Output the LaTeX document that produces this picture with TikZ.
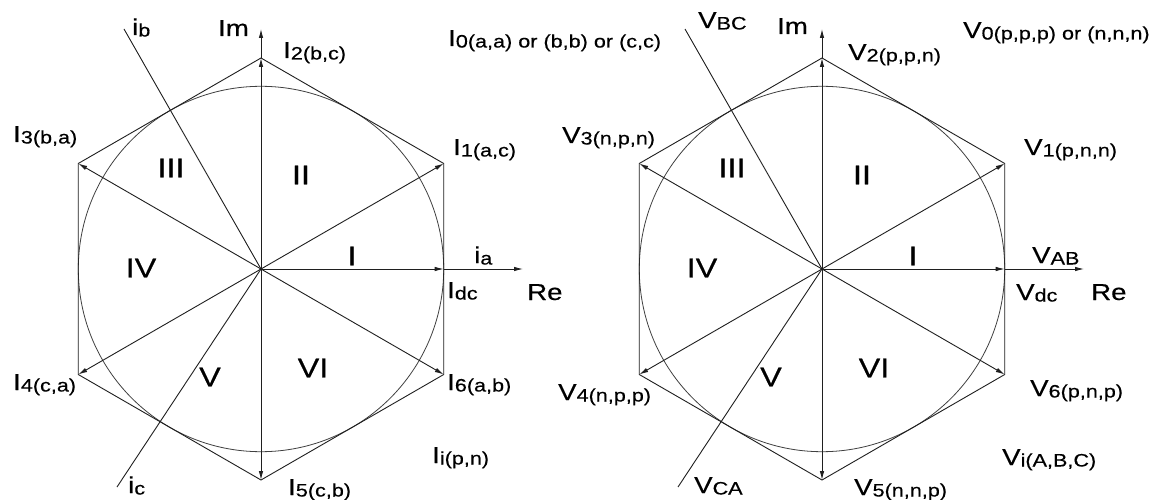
\documentclass[tikz,border=0pt]{standalone}
\usepackage{fontspec}
\setmainfont{Liberation Sans}[FakeStretch=1.2,FakeBold=0.4]
\usetikzlibrary{arrows.meta,calc}
\newcommand{\vl}[2]{{\fontsize{23}{25}\selectfont #1}{\fontsize{18}{20}\selectfont\raisebox{-1.5pt}{#2}}}
\newcommand{\bigt}[1]{{\fontsize{23}{25}\selectfont #1}}
\newcommand{\drawpanel}[3]{%
  \coordinate (#1c) at (#2,#3);
  \foreach \k/\a in {1/-30,2/-90,3/-150,4/150,5/90,6/30}{
    \coordinate (#1v\k) at ($(#1c)+(\a:211)$);
  }
  \coordinate (#1dc) at ($(#1c)+(182.7,0)$);
  \coordinate (#1re) at ($(#1c)+(262,0)$);
  \coordinate (#1im) at ($(#1c)+(0,-240)$);
  \coordinate (#1b) at ($(#1c)+(-137,-240)$);
  \coordinate (#1cc) at ($(#1c)+(-144,218)$);
  \draw[circ] (#1c) circle[radius=182.7];
  \draw[ln] (#1v1) -- (#1v2) -- (#1v3) -- (#1v4) -- (#1v5) -- (#1v6) -- cycle;
  \foreach \k in {1,...,6}{ \draw[vec] (#1c) -- (#1v\k); }
  \draw[vec] (#1c) -- (#1dc);
  \draw[vec] (#1dc) -- (#1re);
  \draw[vec] (#1v2) -- (#1im);
  \draw[ln] (#1c) -- (#1b);
  \draw[ln] (#1c) -- (#1cc);
  \node[sec] (#1s3) at ($(#1c)+(-90,-101)$) {III};
  \node[sec] (#1s2) at ($(#1c)+(40,-94)$) {II};
  \node[sec] (#1s1) at ($(#1c)+(91,-13)$) {I};
  \node[sec] (#1s4) at ($(#1c)+(-120,-1)$) {IV};
  \node[sec] (#1s5) at ($(#1c)+(-51,108)$) {V};
  \node[sec] (#1s6) at ($(#1c)+(52,99)$) {VI};
}
\tikzset{
  ln/.style={line width=0.9pt, draw=black!88},
  vec/.style={ln, -{Latex[length=9pt,width=4.5pt]}},
  circ/.style={line width=0.8pt, draw=black!75},
  lbl/.style={inner sep=0pt, anchor=base west},
  sec/.style={inner sep=0pt, anchor=center, font=\fontsize{27}{30}\selectfont},
}
\begin{document}
\begin{tikzpicture}[x=1pt,y=-1pt]
\useasboundingbox[fill=white] (0,0) rectangle (1165,500);
\drawpanel{L}{261}{269}
\drawpanel{R}{822}{269}
% left labels
\node[lbl] (lib) at (132,35) {\vl{i}{b}};
\node[lbl] (lim) at (218,36) {\bigt{Im}};
\node[lbl] (li2) at (283,58) {\vl{I}{2(b,c)}};
\node[lbl] (li0) at (448,46) {\vl{I}{0(a,a) or (b,b) or (c,c)}};
\node[lbl] (li3) at (13,142) {\vl{I}{3(b,a)}};
\node[lbl] (li1) at (453,155) {\vl{I}{1(a,c)}};
\node[lbl] (lia) at (474,263) {\vl{i}{a}};
\node[lbl] (lidc) at (447,298) {\vl{I}{dc}};
\node[lbl] (lre) at (527,300) {\bigt{Re}};
\node[lbl] (li4) at (13,390) {\vl{I}{4(c,a)}};
\node[lbl] (li6) at (447,390) {\vl{I}{6(a,b)}};
\node[lbl] (lii) at (432,463) {\vl{I}{i(p,n)}};
\node[lbl] (lic) at (128,493) {\vl{i}{c}};
\node[lbl] (li5) at (288,495) {\vl{I}{5(c,b)}};
% right labels
\node[lbl] (rvbc) at (698,28) {\vl{V}{BC}};
\node[lbl] (rim) at (777,34) {\bigt{Im}};
\node[lbl] (rv2) at (848,60) {\vl{V}{2(p,p,n)}};
\node[lbl] (rv0) at (963,38) {\vl{V}{0(p,p,p) or (n,n,n)}};
\node[lbl] (rv3) at (562,143) {\vl{V}{3(n,p,n)}};
\node[lbl] (rv1) at (1024,155) {\vl{V}{1(p,n,n)}};
\node[lbl] (rvab) at (1032,263) {\vl{V}{AB}};
\node[lbl] (rvdc) at (1016,300) {\vl{V}{dc}};
\node[lbl] (rre) at (1091,300) {\bigt{Re}};
\node[lbl] (rv4) at (558,400) {\vl{V}{4(n,p,p)}};
\node[lbl] (rv6) at (1030,396) {\vl{V}{6(p,n,p)}};
\node[lbl] (rvi) at (1002,465) {\vl{V}{i(A,B,C)}};
\node[lbl] (rvca) at (694,493) {\vl{V}{CA}};
\node[lbl] (rv5) at (854,495) {\vl{V}{5(n,n,p)}};
\end{tikzpicture}
\end{document}
